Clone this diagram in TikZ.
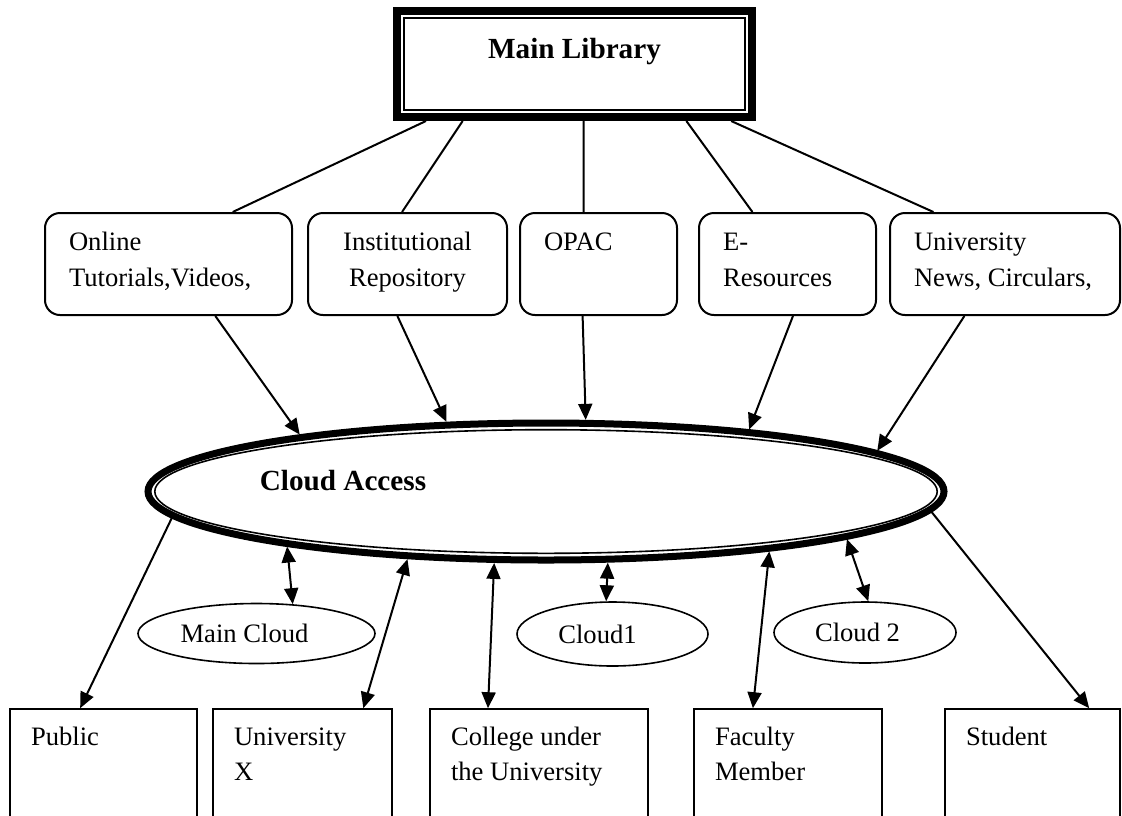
\documentclass[tikz,border=0pt]{standalone}
\usepackage{fontspec}
\setmainfont{Liberation Serif}
\usepackage{tikz}
\usetikzlibrary{shapes.geometric, arrows.meta, calc, positioning}
\tikzstyle{mainbox} = [rectangle, line width=4pt, draw=black, minimum width=177.5pt, inner ysep=0pt, text height=23.5pt, text depth=29.5pt, font=\fontsize{14.6}{18}\selectfont\bfseries]
\tikzstyle{service} = [rectangle, rounded corners=7.5pt, line width=1pt, draw=black, inner xsep=12pt, inner ysep=0pt, text height=18.5pt, text depth=32.5pt, align=flush left, font=\fontsize{13.3}{18}\selectfont]
\tikzstyle{user} = [rectangle, line width=0.8pt, draw=black, inner xsep=10.5pt, inner ysep=0pt, text height=18pt, text depth=42pt, align=flush left, font=\fontsize{13.3}{17.5}\selectfont]
\tikzstyle{cloudnode} = [ellipse, line width=0.8pt, draw=black, inner sep=0pt]
\tikzstyle{cloudtext} = [font=\fontsize{13.3}{16}\selectfont]
\tikzstyle{link} = [line width=1pt]
\tikzstyle{arrow} = [line width=1pt, ->]
\tikzstyle{darrow} = [line width=1pt, <->]

\begin{document}
\begin{tikzpicture}[x=0.5pt, y=-0.5pt, >={Triangle[length=8pt,width=7pt]}]
		
		\clip (0,0) rectangle (1122,815);
		
		\node (MainLib) [mainbox] at (574.5,64) {Main Library};
		\draw[line width=0.8pt] ($(MainLib.north west)+(5.5pt,-5.5pt)$) rectangle ($(MainLib.south east)+(-5.5pt,5.5pt)$);
		
		\node (Online) [service, text width=99.5pt] at (168.5,264) {Online\\Tutorials,Videos,};
		\node (InstRep) [service, text width=75.5pt, align=center, right = 7pt of Online] {Institutional\\Repository};
		\node (Opac) [service, text width=54.5pt, right = 5.5pt of InstRep] {OPAC};
		\node (EResources) [service, text width=64.5pt, right = 10pt of Opac] {E-\\Resources};
		\node (UnivNews) [service, text width=91pt, right = 6pt of EResources] {University\\News,~Circulars,};
		
		\node (Cloud) [ellipse, draw=black, line width=3.5pt, minimum width=398pt, minimum height=68.5pt, inner sep=0pt,
			label={[font=\fontsize{14.6}{18}\selectfont\bfseries, xshift=-101.5pt, yshift=5.25pt]center:Cloud Access}] at (546,491.5) {};
		\draw[line width=0.8pt] (Cloud.center) ellipse [x radius=195.6pt, y radius=30.9pt];
		
		\node (MainCloud) [cloudnode, minimum width=118.5pt, minimum height=30pt, label={[cloudtext, xshift=-6pt]center:Main Cloud}] at (256.5,633.5) {};
		\node (CloudOne) [cloudnode, minimum width=95.5pt, minimum height=32pt, label={[cloudtext, xshift=-7.5pt]center:Cloud1}] at (612.5,634) {};
		\node (CloudTwo) [cloudnode, minimum width=91pt, minimum height=30.5pt, label={[cloudtext, xshift=-3.75pt]center:Cloud 2}] at (865,632.5) {};
		
		\node (Public) [user, text width=72.5pt] at (103.5,769) {Public};
		\node (UnivX) [user, text width=68.5pt, right = 7.2pt of Public] {University\\X};
		\node (College) [user, text width=88pt, right = 18.2pt of UnivX] {College under\\the University};
		\node (Faculty) [user, text width=73pt, right = 22.2pt of College] {Faculty\\Member};
		\node (Student) [user, text width=66.5pt, right = 30.7pt of Faculty] {Student};
		
		\draw [link] (MainLib.201.5) -- (Online.39.3);
		\draw [link] (MainLib.207.1) -- (InstRep.96);
		\draw [link] (MainLib.-81.5) -- (Opac.106.6);
		\draw [link] (MainLib.-27.7) -- (EResources.124.3);
		\draw [link] (MainLib.-20.1) -- (UnivNews.144.2);
		
		\draw [arrow] (Online.-48.2) -- (Cloud.167.3);
		\draw [arrow] (InstRep.259.6) -- (Cloud.145.3);
		\draw [arrow] (Opac.253.4) -- (Cloud.61.5);
		\draw [arrow] (EResources.-84) -- (Cloud.17);
		\draw [arrow] (UnivNews.232.4) -- (Cloud.7.5);
		
		\draw [arrow] (Cloud.184.7) -- (Public.111.3);
		\draw [darrow] (Cloud.192.9) -- (MainCloud.39.2);
		\draw [darrow] (Cloud.206.3) -- (UnivX.45.4);
		\draw [darrow] (Cloud.234.2) -- (College.130.7);
		\draw [darrow] (Cloud.311.5) -- (CloudOne.101.5);
		\draw [darrow] (Cloud.-15) -- (Faculty.120.8);
		\draw [darrow] (Cloud.-9.1) -- (CloudTwo.84.4);
		\draw [arrow] (Cloud.-3.6) -- (Student.47.4);
		
\end{tikzpicture}
\end{document}
